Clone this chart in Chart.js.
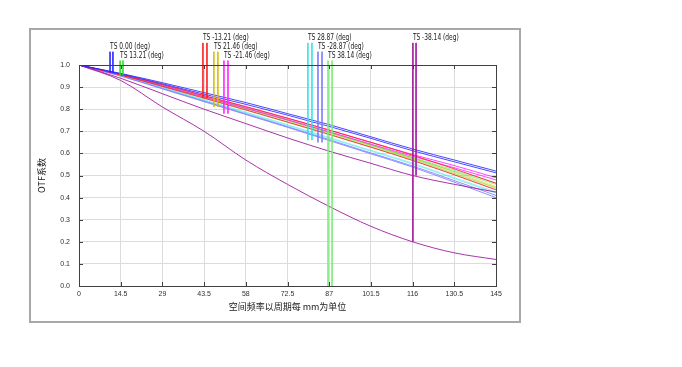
<!DOCTYPE html>
<html><head><meta charset="utf-8">
<script src="https://cdn.jsdelivr.net/npm/chart.js@4.4.1/dist/chart.umd.min.js"></script>
<style>html,body{margin:0;padding:0;background:#fff;}#wrap{width:682px;height:367px;position:relative;}</style>
</head><body><div id="wrap"><canvas id="c" width="682" height="367"></canvas></div>
<script>
// spatial frequency (cycles/mm)
const freqs = [0, 14.5, 29, 43.5, 58, 72.5, 87, 101.5, 116, 130.5, 145];
const xTickLabels = ['0','14.5','29','43.5','58','72.5','87','101.5','116','130.5','145'];
const yTickLabels = ['0.0','0.1','0.2','0.3','0.4','0.5','0.6','0.7','0.8','0.9','1.0'];
const fieldNames = ['0.00','13.21','-13.21','21.46','-21.46','28.87','-28.87','38.14','-38.14'];
const fieldColors = ['rgba(40,40,255,0.85)','rgba(40,220,40,0.8)','rgba(255,30,30,0.85)','rgba(215,185,0,0.8)',
  'rgba(255,40,255,0.85)','rgba(40,225,230,0.75)','rgba(125,125,255,0.85)','rgba(120,235,120,0.8)','rgba(160,30,160,0.9)'];
const curveAlpha = [0.85, 0.45, 0.85, 0.5, 0.85, 0.5, 0.85, 0.45, 0.9];
const curveOrder = [1, 5, 2, 5, 2, 5, 3, 5, 1];
// MTF values per field (T = tangential, S = sagittal)
const f1T = [1, .962, .920, .875, .830, .780, .730, .675, .620, .570, .520];
const f1S = [1, .960, .915, .868, .822, .773, .722, .668, .612, .562, .512];
const f2T = [1, .957, .908, .857, .805, .752, .697, .640, .582, .524, .466];
const f2S = [1, .956, .906, .855, .803, .750, .694, .637, .578, .519, .460];
const f3T = [1, .958, .912, .862, .812, .760, .706, .650, .592, .530, .465];
const f3S = [1, .955, .903, .850, .797, .742, .686, .628, .568, .503, .435];
const f4T = [1, .956, .907, .857, .806, .752, .697, .640, .580, .516, .450];
const f4S = [1, .955, .905, .854, .802, .748, .692, .635, .575, .510, .445];
const f5T = [1, .958, .910, .860, .810, .758, .705, .650, .595, .545, .490];
const f5S = [1, .956, .906, .855, .804, .752, .698, .642, .587, .535, .480];
const f6T = [1, .953, .897, .840, .783, .726, .668, .610, .552, .486, .420];
const f6S = [1, .954, .899, .843, .787, .730, .672, .614, .556, .490, .425];
const f7T = [1, .950, .892, .834, .776, .718, .658, .598, .538, .470, .400];
const f7S = [1, .951, .894, .837, .779, .721, .662, .602, .543, .477, .410];
const f8T = [1, .955, .902, .848, .795, .740, .684, .628, .570, .505, .440];
const f8S = [1, .955, .903, .850, .797, .742, .687, .631, .573, .509, .444];
const f9T = [1, .930, .810, .700, .570, .460, .360, .270, .200, .150, .120];
const f9S = [1, .940, .870, .800, .735, .670, .610, .555, .500, .460, .425];
const seriesT = [f1T, f2T, f3T, f4T, f5T, f6T, f7T, f8T, f9T];
const seriesS = [f1S, f2S, f3S, f4S, f5S, f6S, f7S, f8S, f9S];
// field marker lines: frequency position, top level, bottom value
const markerX = [[10.8,11.8],[14.3,15.3],[43.1,44.5],[46.9,48.3],[50.4,51.8],[79.6,81.0],[83.1,84.5],[86.6,88.0],[116.1,117.2]];
const markerTop = [1.06, 1.02, 1.10, 1.06, 1.02, 1.10, 1.06, 1.02, 1.10];
const markerEnd = [[.965,.965],[.955,.955],[.850,.850],[.810,.810],[.780,.780],[.660,.660],[.650,.650],[.0,.0],[.200,.500]];

function withAlpha(c, a) { return c.replace(/[\d.]+\)$/, a + ')'); }

const datasets = [];
for (let i = 0; i < 9; i++) {
  [seriesT[i], seriesS[i]].forEach(arr => {
    datasets.push({data: freqs.map((f, k) => ({x: f, y: arr[k]})), borderColor: withAlpha(fieldColors[i], curveAlpha[i]),
      borderWidth: 1, pointRadius: 0, cubicInterpolationMode: 'monotone', fill: false, order: curveOrder[i]});
  });
}
for (let i = 0; i < 9; i++) {
  for (let j = 0; j < 2; j++) {
    datasets.push({data: [{x: markerX[i][j], y: markerTop[i]}, {x: markerX[i][j], y: markerEnd[i][j]}],
      borderColor: fieldColors[i], borderWidth: 1, pointRadius: 0, clip: false, fill: false, order: 0});
  }
}

const deco = {
  id: 'deco',
  beforeDraw(chart) {
    const ctx = chart.ctx;
    ctx.save();
    ctx.fillStyle = '#fff'; ctx.fillRect(0, 0, 682, 367);
    ctx.strokeStyle = '#a8a8a8'; ctx.lineWidth = 2;
    ctx.strokeRect(30, 29, 490, 293);
    ctx.restore();
  },
  afterDatasetsDraw(chart) {
    const ctx = chart.ctx, xs = chart.scales.x, ys = chart.scales.y, a = chart.chartArea;
    ctx.save();
    ctx.strokeStyle = '#404040'; ctx.lineWidth = 1;
    ctx.strokeRect(Math.round(a.left) + 0.5, Math.round(a.top) + 0.5, Math.round(a.right - a.left), Math.round(a.bottom - a.top));
    ctx.beginPath();
    freqs.forEach(f => {
      const px = Math.round(xs.getPixelForValue(f)) + 0.5;
      ctx.moveTo(px, a.bottom); ctx.lineTo(px, a.bottom - 4);
      ctx.moveTo(px, a.top); ctx.lineTo(px, a.top + 4);
    });
    yTickLabels.forEach(t => {
      const py = Math.round(ys.getPixelForValue(parseFloat(t))) + 0.5;
      ctx.moveTo(a.left, py); ctx.lineTo(a.left + 4, py);
      ctx.moveTo(a.right, py); ctx.lineTo(a.right - 4, py);
    });
    ctx.stroke();
    // field labels (condensed)
    ctx.fillStyle = '#202020';
    ctx.font = '8px "Liberation Sans Narrow", "DejaVu Sans Condensed", sans-serif';
    ctx.textAlign = 'left'; ctx.textBaseline = 'bottom';
    for (let i = 0; i < 9; i++) {
      const px = xs.getPixelForValue(markerX[i][0]);
      const py = ys.getPixelForValue(markerTop[i]);
      ctx.save();
      ctx.translate(px, py - 1);
      ctx.scale(0.82, 1);
      ctx.fillText('TS ' + fieldNames[i] + ' (deg)', 0, 0);
      ctx.restore();
    }
    // axis titles
    ctx.font = '9px "Noto Sans CJK SC", sans-serif';
    ctx.fillStyle = '#202020';
    ctx.textAlign = 'center'; ctx.textBaseline = 'middle';
    ctx.fillText('空间频率以周期每 mm为单位', (a.left + a.right) / 2, 307);
    ctx.save();
    ctx.translate(42, (a.top + a.bottom) / 2);
    ctx.rotate(-Math.PI / 2);
    ctx.fillText('OTF系数', 0, 0);
    ctx.restore();
    ctx.restore();
  }
};

new Chart(document.getElementById('c'), {
  type: 'line',
  data: {datasets},
  plugins: [deco],
  options: {
    responsive: false, animation: false,
    layout: {padding: {left: 33, right: 186, top: 65, bottom: 44}},
    plugins: {legend: {display: false}, tooltip: {enabled: false}},
    scales: {
      x: {type: 'linear', min: 0, max: 145,
        afterBuildTicks: s => { s.ticks = freqs.map(v => ({value: v})); },
        afterFit: s => { s.height = 37; },
        grid: {color: '#dcdcdc', drawTicks: false}, border: {display: false},
        ticks: {padding: 4, color: '#303030', font: {size: 7, family: '"Liberation Sans Narrow", sans-serif'},
          callback: (v, i) => xTickLabels[i], maxRotation: 0, autoSkip: false}},
      y: {type: 'linear', min: 0, max: 1,
        afterBuildTicks: s => { s.ticks = yTickLabels.map(t => ({value: parseFloat(t)})); },
        afterFit: s => { s.width = 46; },
        grid: {color: '#dcdcdc', drawTicks: false}, border: {display: false},
        ticks: {padding: 9, color: '#303030', font: {size: 7, family: '"Liberation Sans Narrow", sans-serif'},
          callback: (v, i) => yTickLabels[i], autoSkip: false}}
    }
  }
});
</script></body></html>
